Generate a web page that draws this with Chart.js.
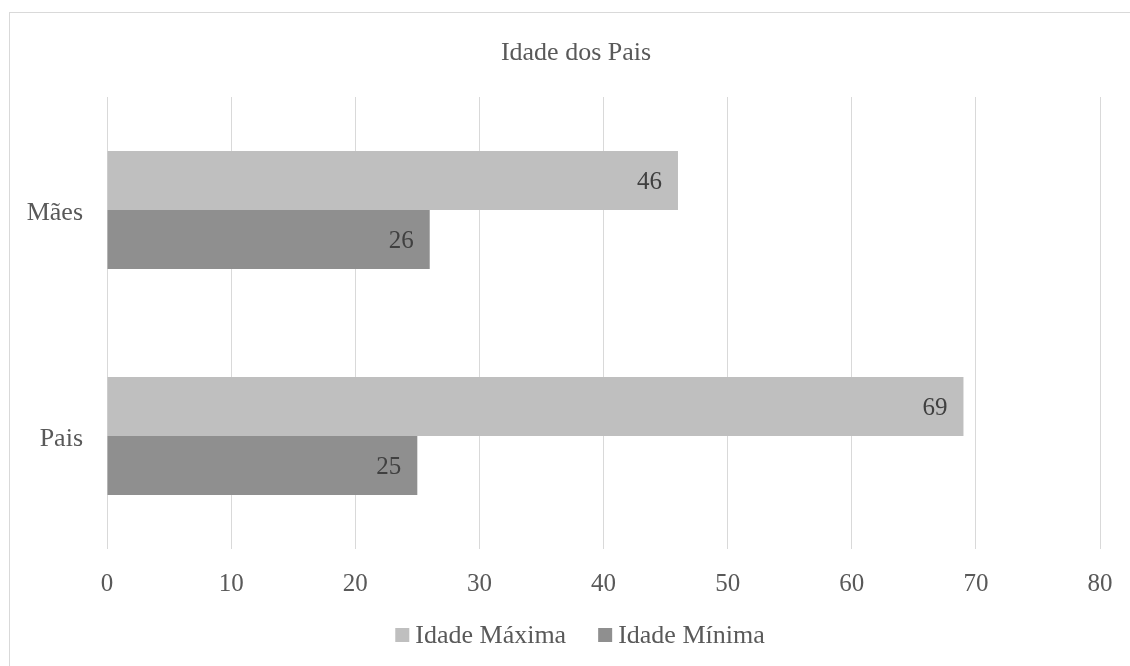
<!DOCTYPE html>
<html>
<head>
<meta charset="utf-8">
<title>Idade dos Pais</title>
<script src="https://cdn.jsdelivr.net/npm/chart.js@4"></script>
<style>
  html, body { margin: 0; padding: 0; background: #ffffff; }
  #wrap { width: 1130px; height: 666px; }
</style>
</head>
<body>
<div id="wrap"><canvas id="chart" width="1130" height="666"></canvas></div>
<script>
// Chart data
const categories = ['Mães', 'Pais'];
const seriesNames = ['Idade Máxima', 'Idade Mínima'];
const idadeMaxima = [46, 69];
const idadeMinima = [26, 25];
const xTicks = [0, 10, 20, 30, 40, 50, 60, 70, 80];
const chartTitle = 'Idade dos Pais';

const FONT = '"Liberation Serif", "Times New Roman", serif';
const COLORS = ['#bfbfbf', '#8f8f8f'];

// Light frame along the top and left edges, plus the chart title
const framePlugin = {
  id: 'frame',
  beforeDraw(chart) {
    const ctx = chart.ctx;
    ctx.save();
    ctx.strokeStyle = '#d9d9d9';
    ctx.lineWidth = 1;
    ctx.strokeRect(9.5, 12.5, 1140, 700);
    ctx.font = '26px ' + FONT;
    ctx.fillStyle = '#595959';
    ctx.textAlign = 'center';
    ctx.textBaseline = 'middle';
    ctx.fillText(chartTitle, 576, 53);
    ctx.restore();
  }
};

// Value labels inside the end of each bar
const valueLabelPlugin = {
  id: 'valueLabels',
  afterDatasetsDraw(chart) {
    const ctx = chart.ctx;
    ctx.save();
    ctx.font = '25px ' + FONT;
    ctx.fillStyle = '#404040';
    ctx.textAlign = 'right';
    ctx.textBaseline = 'middle';
    chart.data.datasets.forEach((ds, di) => {
      const meta = chart.getDatasetMeta(di);
      meta.data.forEach((bar, i) => {
        ctx.fillText(String(ds.data[i]), bar.x - 16, bar.y + 1.5);
      });
    });
    ctx.restore();
  }
};

// Legend row under the axis
const legendPlugin = {
  id: 'bottomLegend',
  afterDraw(chart) {
    const ctx = chart.ctx;
    ctx.save();
    ctx.font = '26px ' + FONT;
    ctx.textBaseline = 'middle';
    const box = 14, gap = 6, itemGap = 32;
    const widths = seriesNames.map(n => box + gap + ctx.measureText(n).width);
    const total = widths.reduce((a, b) => a + b, 0) + itemGap * (widths.length - 1);
    let x = 580 - total / 2;
    const y = 635;
    seriesNames.forEach((name, i) => {
      ctx.fillStyle = COLORS[i];
      ctx.fillRect(x, y - box / 2, box, box);
      ctx.fillStyle = '#595959';
      ctx.textAlign = 'left';
      ctx.fillText(name, x + box + gap, y + 1);
      x += widths[i] + itemGap;
    });
    ctx.restore();
  }
};

new Chart(document.getElementById('chart'), {
  type: 'bar',
  data: {
    labels: categories,
    datasets: [
      { label: seriesNames[0], data: idadeMaxima, backgroundColor: COLORS[0] },
      { label: seriesNames[1], data: idadeMinima, backgroundColor: COLORS[1] }
    ]
  },
  options: {
    indexAxis: 'y',
    responsive: false,
    animation: false,
    events: [],
    layout: { padding: { left: 0, right: 30, top: 97, bottom: 0 } },
    datasets: {
      bar: { categoryPercentage: 0.523, barPercentage: 1.0, borderWidth: 0 }
    },
    plugins: {
      legend: { display: false },
      tooltip: { enabled: false },
      title: { display: false }
    },
    scales: {
      x: {
        type: 'linear',
        min: xTicks[0],
        max: xTicks[xTicks.length - 1],
        afterBuildTicks(axis) {
          axis.ticks = xTicks.map(v => ({ value: v }));
        },
        afterFit(axis) {
          axis.height = 117;
          axis.paddingLeft = 0;
          axis.paddingRight = 0;
        },
        grid: { color: '#d9d9d9', lineWidth: 1, drawTicks: false },
        border: { display: false },
        ticks: {
          color: '#595959',
          padding: 20,
          font: { family: FONT, size: 25 }
        }
      },
      y: {
        afterFit(axis) {
          axis.width = 107;
          axis.paddingTop = 0;
          axis.paddingBottom = 0;
        },
        grid: { display: false, drawTicks: false },
        border: { display: false },
        ticks: {
          color: '#595959',
          padding: 24,
          labelOffset: 3,
          font: { family: FONT, size: 26 }
        }
      }
    }
  },
  plugins: [framePlugin, valueLabelPlugin, legendPlugin]
});
</script>
</body>
</html>
